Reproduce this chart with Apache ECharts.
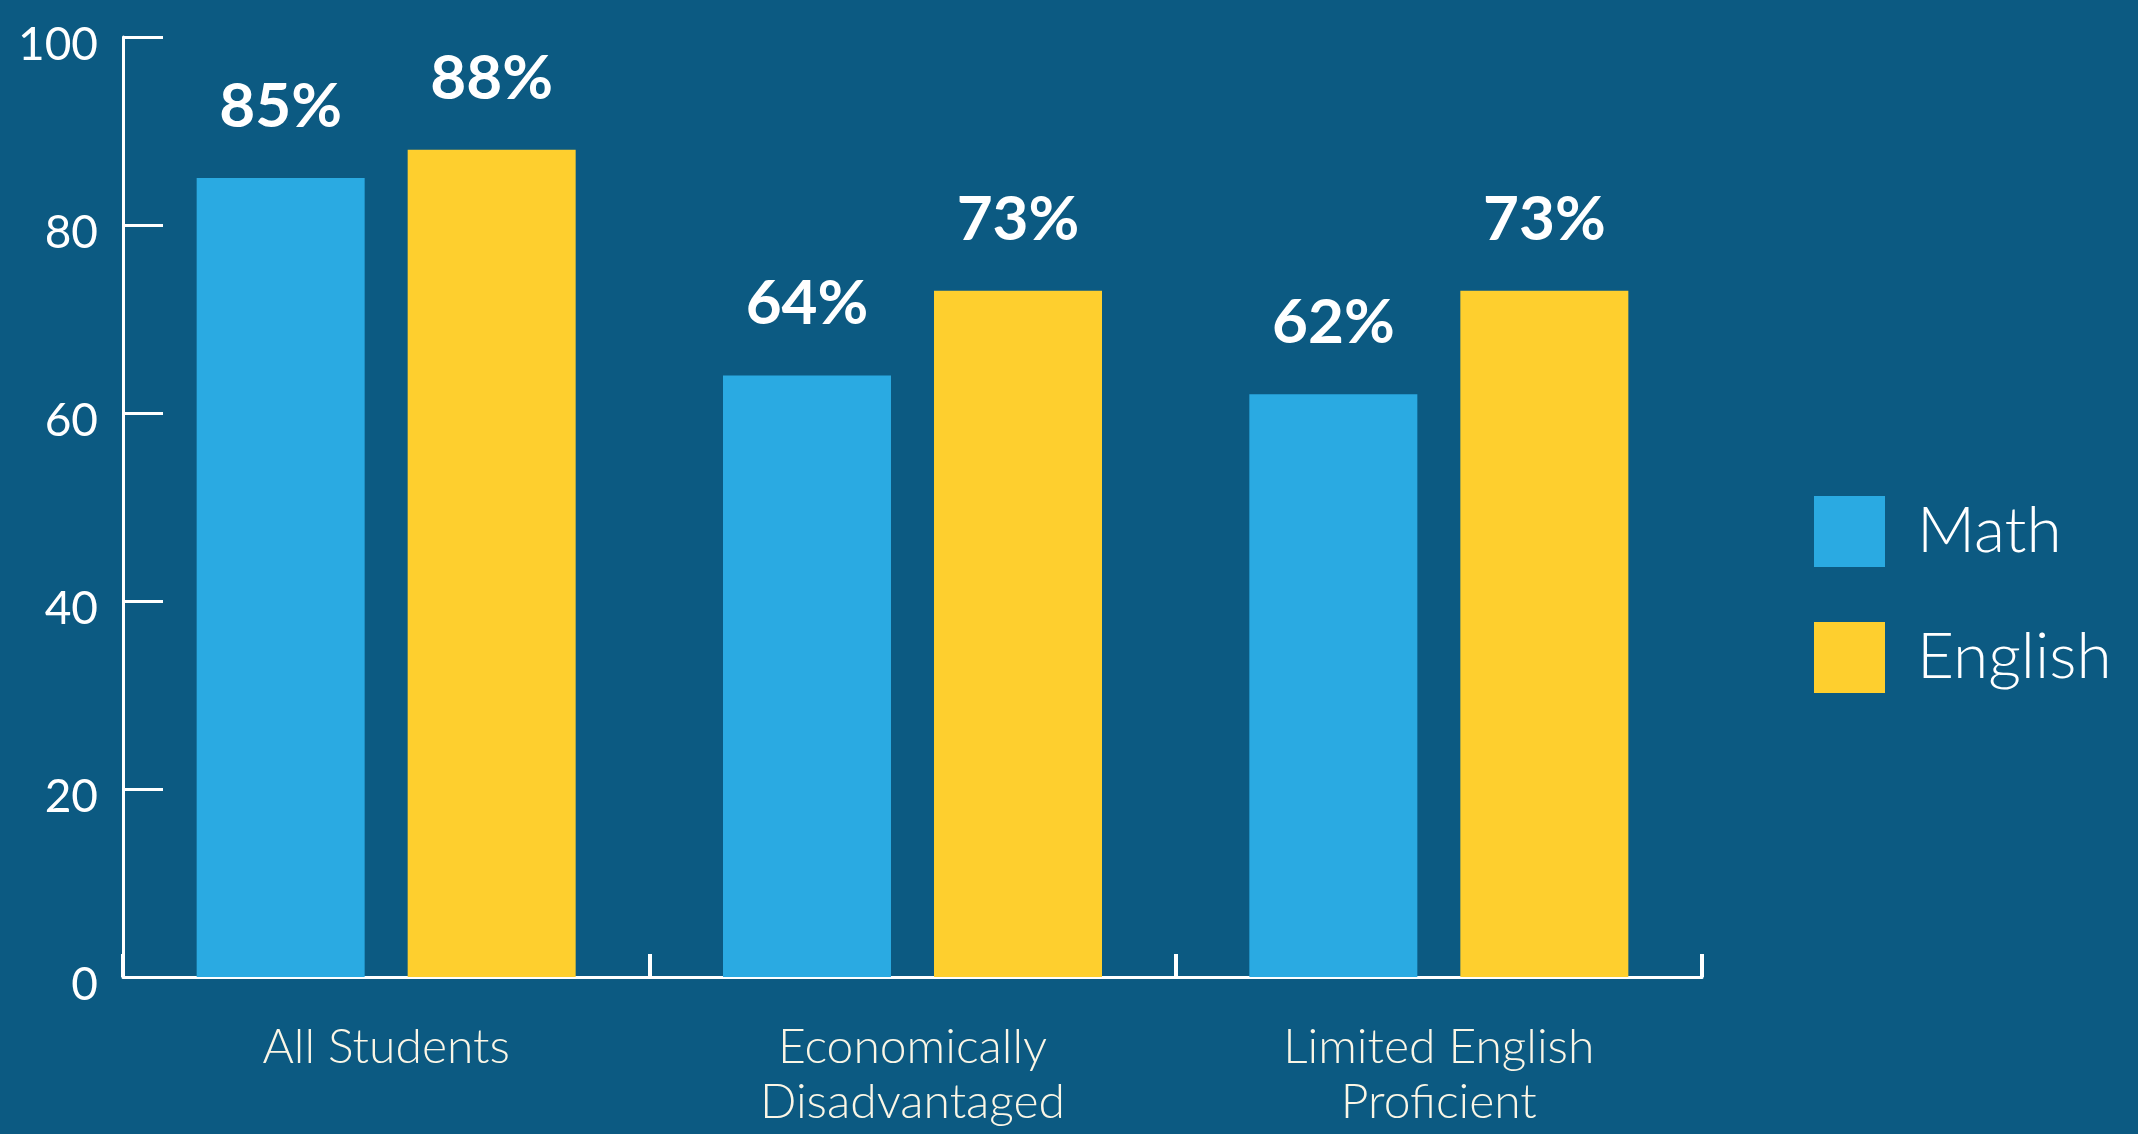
<!DOCTYPE html>
<html>
<head>
<meta charset="utf-8">
<script src="https://cdn.jsdelivr.net/npm/echarts@6/dist/echarts.min.js"></script>
<style>
  html, body { margin: 0; padding: 0; background: #0c5a82; }
  #chart { width: 2138px; height: 1134px; }
</style>
</head>
<body>
<div id="chart"></div>
<script>
// Student groups and proficiency rates (percent)
const categories = ['All Students', 'Economically\nDisadvantaged', 'Limited English\nProficient'];
const mathValues = [85, 64, 62];
const englishValues = [88, 73, 73];
const yTicks = [0, 20, 40, 60, 80, 100];

const FONT = 'Lato, "Open Sans", sans-serif';
const chart = echarts.init(document.getElementById('chart'));

const valueLabel = {
  show: true,
  position: 'top',
  distance: 40,
  color: '#ffffff',
  fontFamily: FONT,
  fontWeight: 'bold',
  fontSize: 62,
  formatter: p => p.value + '%'
};

chart.setOption({
  backgroundColor: '#0c5a82',
  animation: false,
  grid: { left: 123, right: 436, top: 37, bottom: 157 },
  legend: {
    orient: 'vertical',
    left: 1809,
    top: 491,
    itemWidth: 71,
    itemHeight: 71,
    itemGap: 55,
    icon: 'rect',
    textStyle: {
      color: '#ffffff',
      fontFamily: FONT,
      fontWeight: 300,
      fontSize: 64,
      padding: [0, 0, 0, 27]
    },
    data: ['Math', 'English']
  },
  xAxis: {
    type: 'category',
    data: categories,
    axisLine: { lineStyle: { color: '#ffffff', width: 3 } },
    axisTick: { show: true, inside: true, length: 23, lineStyle: { color: '#ffffff', width: 4 } },
    axisLabel: {
      color: '#fbf6e6',
      fontFamily: FONT,
      fontWeight: 300,
      fontSize: 48,
      lineHeight: 55,
      margin: 43
    }
  },
  yAxis: {
    type: 'value',
    min: yTicks[0],
    max: yTicks[yTicks.length - 1],
    interval: yTicks[1] - yTicks[0],
    splitLine: { show: false },
    axisLine: { show: true, lineStyle: { color: '#ffffff', width: 3 } },
    axisTick: { show: true, inside: true, length: 40, lineStyle: { color: '#ffffff', width: 3 } },
    axisLabel: {
      color: '#ffffff',
      fontFamily: FONT,
      fontSize: 46,
      margin: 25,
      verticalAlign: 'top',
      lineHeight: 16
    }
  },
  series: [
    {
      name: 'Math',
      type: 'bar',
      data: mathValues,
      barWidth: 168,
      barGap: '25.6%',
      itemStyle: { color: '#2aaae2' },
      label: valueLabel
    },
    {
      name: 'English',
      type: 'bar',
      data: englishValues,
      barWidth: 168,
      itemStyle: { color: '#fecf2e' },
      label: valueLabel
    }
  ]
});
</script>
</body>
</html>
